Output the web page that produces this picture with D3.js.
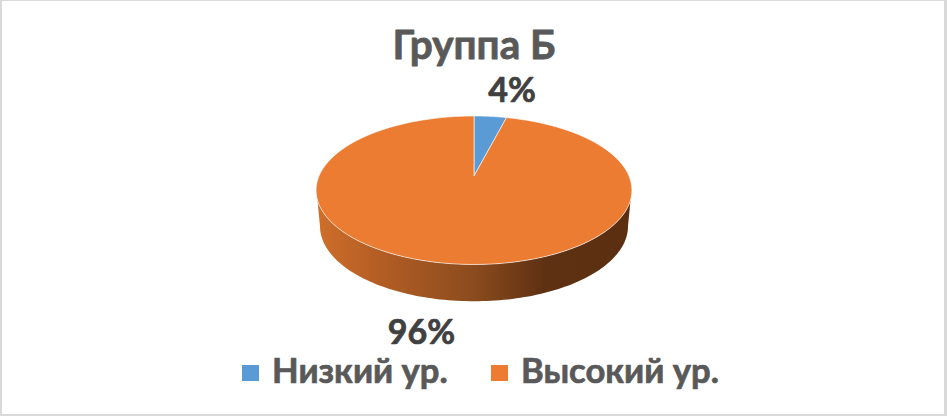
<!DOCTYPE html>
<html>
<head>
<meta charset="utf-8">
<script src="https://cdn.jsdelivr.net/npm/d3@7"></script>
<style>
html,body{margin:0;padding:0;background:#fff}
svg{display:block}
text{font-family:Lato,"Open Sans",sans-serif;font-weight:700;stroke-linejoin:round}
</style>
</head>
<body>
<svg id="c" width="947" height="416"></svg>
<script>
const chartTitle = "Группа Б";
const categories = ["Низкий ур.", "Высокий ур."];
const values = [4, 96];
const valueLabels = ["4%", "96%"];
const colors = ["#5b9bd5", "#eb7c31"];

const svg = d3.select("#c");
const W = 947, H = 416;

// frame
svg.append("rect").attr("x",0).attr("y",0).attr("width",W).attr("height",H).attr("fill","#d9d9d9");
svg.append("rect").attr("x",2).attr("y",1).attr("width",W-5).attr("height",H-3).attr("fill","#fff");

// pie angles
const pie = d3.pie().value(d=>d).sort(null);
const arcs = pie(values);

// tilted-disc projection: a unit circle seen in perspective
const apex = {x:474, y:176}, A = 155, B = 71.5, P = 0.192, ellipseOffset = 14.25;
function project(a, sx=1, sy=1, dy=0){
  const x = Math.sin(a), y = -Math.cos(a), w = 1 - P*y;
  return [apex.x + sx*A*x/w,
          apex.y + ellipseOffset + sy*(B*y/w - ellipseOffset) + dy];
}
const line = d3.line();
const sweep = (a0,a1) => d3.range(0,121).map(i=>a0+(a1-a0)*i/120);
const deg = d3.scaleLinear().domain([0,180]).range([0,Math.PI]);

// gradient of the rim
const defs = svg.append("defs");
const grad = defs.append("linearGradient").attr("id","rim")
  .attr("gradientUnits","userSpaceOnUse").attr("x1",316).attr("x2",632).attr("y1",0).attr("y2",0);
[[0,"#cf6f2b"],[0.18,"#b65f25"],[0.5,"#8b4b1d"],[0.72,"#5f3113"],[1,"#5d2f11"]]
  .forEach(s=>grad.append("stop").attr("offset",s[0]).attr("stop-color",s[1]));

// rim: the visible lower part of the disc, extruded downward
const rimTop = sweep(deg(108.4), deg(251.6)).map(a=>project(a));
const rimBot = sweep(deg(259), deg(101)).map(a=>project(a,0.975,1.01,36));
svg.append("path").attr("d", line(rimTop.concat(rimBot))+"Z").attr("fill","url(#rim)");

// top face
svg.selectAll("path.slice").data(arcs).enter().append("path").attr("class","slice")
  .attr("d", d=>line([[apex.x,apex.y]].concat(sweep(d.startAngle,d.endAngle).map(a=>project(a))))+"Z")
  .attr("fill",(d,i)=>colors[i])
  .attr("stroke","#fff").attr("stroke-opacity",0.8).attr("stroke-width",0.75).attr("stroke-linejoin","round");

// title
svg.append("text").attr("x",474).attr("y",59).attr("text-anchor","middle")
  .attr("font-size",40.5).attr("fill","#595959").attr("stroke","#595959").attr("stroke-width",0.8).text(chartTitle);

// data labels
const labelPos = [[512,102],[421.5,344]];
svg.selectAll("text.dl").data(valueLabels).enter().append("text").attr("class","dl")
  .attr("x",(d,i)=>labelPos[i][0]).attr("y",(d,i)=>labelPos[i][1]).attr("text-anchor","middle")
  .attr("font-size",34).attr("fill","#404040").attr("stroke","#404040").attr("stroke-width",0.7).text(d=>d);

// legend
const legendX = [242,491];
const lg = svg.selectAll("g.lg").data(categories).enter().append("g").attr("class","lg")
  .attr("transform",(d,i)=>`translate(${legendX[i]},365)`);
lg.append("rect").attr("width",17).attr("height",16).attr("fill",(d,i)=>colors[i]);
lg.append("text").attr("x",30).attr("y",18).attr("font-size",34.6).attr("fill","#595959")
  .attr("stroke","#595959").attr("stroke-width",0.7).text(d=>d);
</script>
</body>
</html>
